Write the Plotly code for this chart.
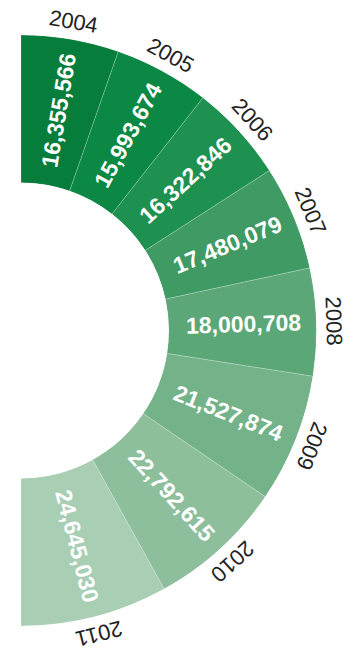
import math
import plotly.graph_objects as go

# Yearly totals shown as a half-donut (slice angle proportional to value)
years = ["2004", "2005", "2006", "2007", "2008", "2009", "2010", "2011"]
values = [16355566, 15993674, 16322846, 17480079, 18000708, 21527874, 22792615, 24645030]
colors = ["#067d3a", "#0a8844", "#1e9150", "#3f9b63", "#5ba777", "#74b389", "#8ebf9d", "#a8ceb4"]

W, H = 354, 651
SPAN = 180.0  # half circle

total = sum(values)
widths = [v / total * SPAN for v in values]
mids = []
acc = 0.0
for w in widths:
    mids.append(acc + w / 2)
    acc += w

# polar subplot placement (pixels)
left_px, top_px, bottom_px = 21, 35, 626
R = (bottom_px - top_px) / 2
cx, cy = left_px, (top_px + bottom_px) / 2
hole = 0.5

fig = go.Figure()
fig.add_trace(go.Barpolar(
    r=[1] * len(values),
    theta=mids,
    width=widths,
    marker=dict(color=colors, line=dict(color="rgba(255,255,255,0.35)", width=0.6)),
    hoverinfo="skip",
))


def to_paper(radius, theta_deg):
    t = math.radians(theta_deg)
    x = cx + radius * math.sin(t)
    y = cy - radius * math.cos(t)
    return x / W, 1 - y / H


annotations = []
r_val = 223
r_year = 313
for yr, v, th in zip(years, values, mids):
    px, py = to_paper(r_val, th)
    annotations.append(dict(
        x=px, y=py, xref="paper", yref="paper", showarrow=False,
        text=f"{v:,}", textangle=th - 90,
        xanchor="center", yanchor="middle",
        font=dict(family="Liberation Sans, Arial, sans-serif", size=23, color="white", weight="bold"),
    ))
    px, py = to_paper(r_year, th)
    annotations.append(dict(
        x=px, y=py, xref="paper", yref="paper", showarrow=False,
        text=yr, textangle=th,
        xanchor="center", yanchor="middle",
        font=dict(family="Liberation Sans, Arial, sans-serif", size=22, color="#222222"),
    ))

fig.update_layout(
    width=W, height=H,
    margin=dict(l=0, r=0, t=0, b=0),
    paper_bgcolor="white",
    plot_bgcolor="white",
    showlegend=False,
    polar=dict(
        domain=dict(x=[left_px / W, (left_px + R) / W], y=[1 - bottom_px / H, 1 - top_px / H]),
        sector=[-90, 90],
        hole=hole,
        bgcolor="rgba(0,0,0,0)",
        radialaxis=dict(range=[0, 1], visible=False, showgrid=False, showline=False,
                        showticklabels=False, ticks=""),
        angularaxis=dict(direction="clockwise", rotation=90, thetaunit="degrees",
                         visible=False, showgrid=False, showline=False,
                         showticklabels=False, ticks=""),
    ),
    annotations=annotations,
)

fig.write_html("out.html")
